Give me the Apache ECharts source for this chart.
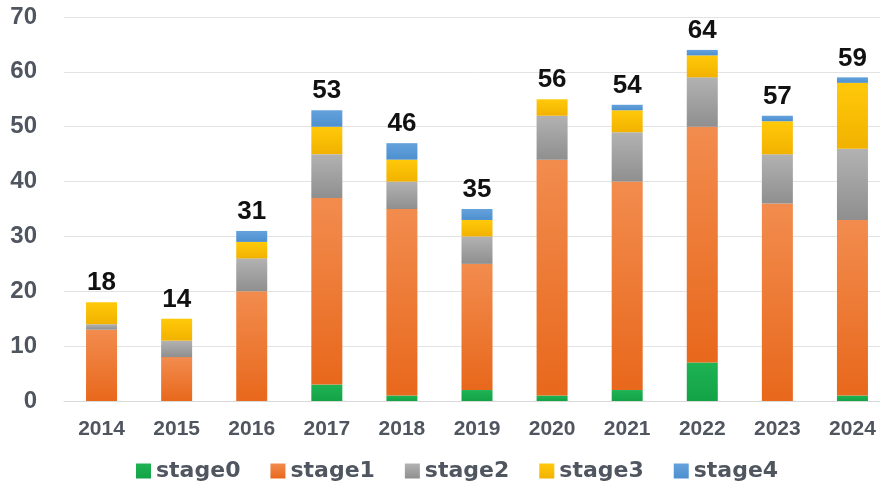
<!DOCTYPE html>
<html>
<head>
<meta charset="utf-8">
<script src="https://cdn.jsdelivr.net/npm/echarts@6/dist/echarts.min.js"></script>
<style>
  html, body { margin: 0; padding: 0; background: #fff; }
  #chart { width: 880px; height: 486px; }
</style>
</head>
<body>
<div id="chart"></div>
<script>
// years on the x axis
const years = ['2014', '2015', '2016', '2017', '2018', '2019', '2020', '2021', '2022', '2023', '2024'];

// stacked segments
const stage0 = [0, 0, 0, 3, 1, 2, 1, 2, 7, 0, 1];
const stage1 = [13, 8, 20, 34, 34, 23, 43, 38, 43, 36, 32];
const stage2 = [1, 3, 6, 8, 5, 5, 8, 9, 9, 9, 13];
const stage3 = [4, 4, 3, 5, 4, 3, 3, 4, 4, 6, 12];
const stage4 = [0, 0, 2, 3, 3, 2, 0, 1, 1, 1, 1];

// totals printed above each bar
const totals = [18, 14, 31, 53, 46, 35, 56, 54, 64, 57, 59];

const yTicks = [0, 10, 20, 30, 40, 50, 60, 70];

const textColor = '#50565f';
const font = '"Liberation Sans", Arial, sans-serif';

// vertical gradient like the office-style fill
const grad = (top, bottom) => new echarts.graphic.LinearGradient(0, 0, 0, 1, [
  { offset: 0, color: top },
  { offset: 1, color: bottom }
]);

const stages = [
  { name: 'stage0', data: stage0, color: grad('#1fb354', '#12a346'), legend: '#1aab4c' },
  { name: 'stage1', data: stage1, color: grad('#f28c4e', '#e8681c'), legend: '#ee7a33' },
  { name: 'stage2', data: stage2, color: grad('#b2b2b2', '#8f8f8f'), legend: '#a5a5a5' },
  { name: 'stage3', data: stage3, color: grad('#ffc90a', '#f2b200'), legend: '#ffc000' },
  { name: 'stage4', data: stage4, color: grad('#64a2dc', '#4d8fcf'), legend: '#5b9bd5' }
];

const chart = echarts.init(document.getElementById('chart'));

const series = stages.map((s, i) => {
  const item = {
    name: s.name,
    type: 'bar',
    stack: 'total',
    barWidth: 31,
    data: s.data,
    itemStyle: { color: s.color }
  };
  // total label sits on the top segment
  if (i === stages.length - 1) {
    item.label = {
      show: true,
      position: 'top',
      distance: 6,
      fontFamily: font,
      fontSize: 26,
      fontWeight: 'bold',
      color: '#111',
      formatter: p => totals[p.dataIndex]
    };
  }
  return item;
});

const option = {
  animation: false,
  backgroundColor: '#fff',
  color: stages.map(s => s.legend),
  grid: {
    left: 64,
    right: -10,
    top: 17,
    bottom: 85,
    outerBoundsMode: 'none'
  },
  legend: {
    data: stages.map(s => s.name),
    left: 131,
    top: 455,
    icon: 'rect',
    itemWidth: 15,
    itemHeight: 15,
    itemGap: 30,
    textStyle: {
      fontFamily: '"DejaVu Sans", sans-serif',
      fontSize: 22,
      fontWeight: 'bold',
      color: textColor
    }
  },
  xAxis: {
    type: 'category',
    data: years,
    axisTick: { show: false },
    axisLine: { lineStyle: { color: '#d9d9d9', width: 1 } },
    axisLabel: {
      margin: 18,
      fontFamily: font,
      fontSize: 21,
      fontWeight: 'bold',
      color: textColor
    }
  },
  yAxis: {
    type: 'value',
    min: yTicks[0],
    max: yTicks[yTicks.length - 1],
    interval: 10,
    axisLine: { show: false },
    axisTick: { show: false },
    splitLine: { lineStyle: { color: '#e3e3e3', width: 1 } },
    axisLabel: {
      margin: 27,
      fontFamily: font,
      fontSize: 24,
      fontWeight: 'bold',
      color: textColor
    }
  },
  series: series
};

chart.setOption(option);
</script>
</body>
</html>
